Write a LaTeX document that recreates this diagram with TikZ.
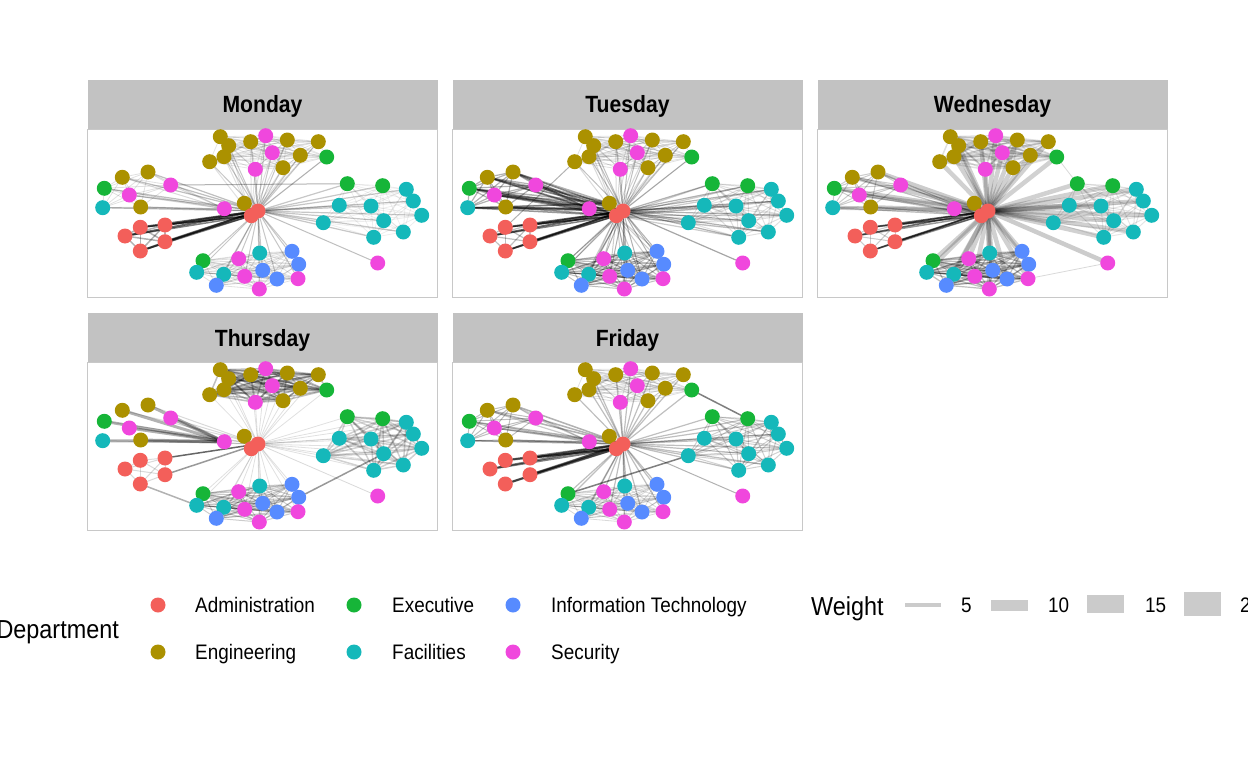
\documentclass[tikz,border=0pt]{standalone}
\usepackage{fontspec}
\setmainfont{Liberation Sans}[FakeStretch=0.9]
\usetikzlibrary{positioning}

\definecolor{admc}{HTML}{F35F5A}
\definecolor{engc}{HTML}{AB9100}
\definecolor{exec}{HTML}{16B538}
\definecolor{facc}{HTML}{15B8BA}
\definecolor{itc}{HTML}{578BFF}
\definecolor{secc}{HTML}{F047DD}
\definecolor{stripc}{HTML}{C2C2C2}
\definecolor{framec}{HTML}{C8C8C8}
\definecolor{keyc}{HTML}{CBCBCB}

\pgfdeclarelayer{edges}
\pgfsetlayers{edges,main}

\tikzset{
  dot/.style={circle, inner sep=0pt, minimum size=15pt},
  adm/.style={dot, fill=admc},
  eng/.style={dot, fill=engc},
  exe/.style={dot, fill=exec},
  fac/.style={dot, fill=facc},
  itd/.style={dot, fill=itc},
  sec/.style={dot, fill=secc},
  edge/.style={draw=black, line cap=round},
  frame/.style={draw=framec, line width=1pt},
  striptext/.style={inner sep=0pt, anchor=base, font=\fontsize{23.5}{26}\selectfont\bfseries},
  legtext/.style={inner sep=0pt, anchor=base west, font=\fontsize{21}{24}\selectfont},
  legtitle/.style={inner sep=0pt, font=\fontsize{26}{30}\selectfont},
  keyline/.style={draw=keyc, line cap=butt}
}

% groups of the layout
\def\topgrp{e1,e2,e3,e4,e5,e6,e7,e8,e9,s1,s2,s3,x1}
\def\leftgrp{e10,e11,x2,s4,f1,e12,s5}
\def\redgrp{a2,a3,a4,a5,a6}
\def\rightgrp{x3,x4,f2,f3,f4,f5,f6,f7,f8,f9,f10}
\def\lowgrp{x5,f11,f12,i1,s8,f13,i2,i3,s9,i4,i5,s10,s11}

% center, list, opacity, width
\newcommand{\spokes}[4]{%
  \foreach \v in #2 {\draw[edge, opacity=#3, line width=#4] (#1) -- (\v);}}
% list, opacity, width
\newcommand{\clique}[3]{%
  \foreach \u [count=\i] in #1 {
    \foreach \v [count=\j] in #1 {
      \ifnum\i<\j \draw[edge, opacity=#2, line width=#3] (\u) -- (\v); \fi}}}

\newcommand{\panel}[1]{%
  \draw[frame] (87.5,129) rectangle (437.5,297);
  \fill[stripc] (87.5,80) rectangle (437.5,129);
  \node[striptext] (title) at (262.5,113) {#1};
  % engineering
  \node[eng] (e1) at (220.3,136.7) {};
  \node[eng] (e2) at (228.7,145.7) {};
  \node[eng] (e3) at (224,156.7) {};
  \node[eng] (e4) at (209.7,161.7) {};
  \node[eng] (e5) at (250.7,141.7) {};
  \node[eng] (e6) at (287.3,140) {};
  \node[eng] (e7) at (318.3,141.7) {};
  \node[eng] (e8) at (300.3,155.3) {};
  \node[eng] (e9) at (283,167.7) {};
  \node[eng] (e10) at (122.3,177.3) {};
  \node[eng] (e11) at (148,172) {};
  \node[eng] (e12) at (140.7,207) {};
  \node[eng] (e13) at (244.3,203.3) {};
  % executive
  \node[exe] (x1) at (326.7,157) {};
  \node[exe] (x2) at (104.3,188.3) {};
  \node[exe] (x3) at (347.3,183.7) {};
  \node[exe] (x4) at (382.7,185.7) {};
  \node[exe] (x5) at (203,260.7) {};
  % facilities
  \node[fac] (f1) at (102.7,207.7) {};
  \node[fac] (f2) at (406.3,189.3) {};
  \node[fac] (f3) at (413.3,201) {};
  \node[fac] (f4) at (421.7,215.3) {};
  \node[fac] (f5) at (339.3,205.3) {};
  \node[fac] (f6) at (371,206) {};
  \node[fac] (f7) at (383.7,220.7) {};
  \node[fac] (f8) at (323.3,222.7) {};
  \node[fac] (f9) at (403.3,232) {};
  \node[fac] (f10) at (373.7,237.3) {};
  \node[fac] (f11) at (196.7,272.3) {};
  \node[fac] (f12) at (223.7,274.3) {};
  \node[fac] (f13) at (259.7,253) {};
  % information technology
  \node[itd] (i1) at (216.3,285.3) {};
  \node[itd] (i2) at (292,251.3) {};
  \node[itd] (i3) at (298.7,264.3) {};
  \node[itd] (i4) at (262.7,270.3) {};
  \node[itd] (i5) at (277,279) {};
  % security
  \node[sec] (s1) at (265.7,135.7) {};
  \node[sec] (s2) at (272.3,152.7) {};
  \node[sec] (s3) at (255.3,169.3) {};
  \node[sec] (s4) at (129.3,195) {};
  \node[sec] (s5) at (170.7,185) {};
  \node[sec] (s6) at (224.3,208.7) {};
  \node[sec] (s7) at (377.7,263) {};
  \node[sec] (s8) at (238.7,258.7) {};
  \node[sec] (s9) at (244.7,276.3) {};
  \node[sec] (s10) at (298,278.7) {};
  \node[sec] (s11) at (259.3,289) {};
  % administration
  \node[adm] (a2) at (140.3,227.3) {};
  \node[adm] (a3) at (165,225) {};
  \node[adm] (a4) at (125,236) {};
  \node[adm] (a5) at (165,241.7) {};
  \node[adm] (a6) at (140.3,251) {};
  \node[adm] (a1) at (251.3,215.7) {};
  \node[adm] (a0) at (258,211) {};
}

\begin{document}
\begin{tikzpicture}[x=1pt, y=-1pt]
\useasboundingbox (0,0) rectangle (1248,768);

% Monday
\begin{scope}[name prefix=mon-]
  \panel{Monday}
  \begin{pgfonlayer}{edges}
    \spokes{a0}{\topgrp}{.22}{1}
    \spokes{a1}{\topgrp}{.12}{1}
    \spokes{a0}{\lowgrp}{.22}{1}
    \spokes{a0}{\rightgrp}{.22}{1.2}
    \spokes{a0}{\leftgrp}{.25}{1.2}
    \spokes{s6}{\leftgrp}{.15}{1}
    \spokes{a0}{\redgrp}{.6}{2}
    \spokes{a1}{\redgrp}{.5}{1.5}
    \clique{\topgrp}{.1}{.8}
    \clique{\lowgrp}{.12}{.8}
    \clique{\rightgrp}{.07}{.8}
    \clique{\leftgrp}{.12}{.8}
    \clique{\redgrp}{.3}{1.5}
    \draw[edge, opacity=.25, line width=1] (a0) -- (s7);
    \draw[edge, opacity=.3, line width=1] (s5) -- (x3);
  \end{pgfonlayer}
\end{scope}

% Tuesday
\begin{scope}[shift={(365,0)}, name prefix=tue-]
  \panel{Tuesday}
  \begin{pgfonlayer}{edges}
    \spokes{a0}{\leftgrp}{.45}{1.5}
    \spokes{a1}{\leftgrp}{.4}{1.5}
    \spokes{s6}{\leftgrp}{.35}{1.5}
    \spokes{e13}{\leftgrp}{.3}{1.5}
    \spokes{a0}{\redgrp}{.6}{1.8}
    \spokes{a1}{\redgrp}{.5}{1.5}
    \spokes{a0}{\topgrp}{.25}{1}
    \spokes{a1}{\topgrp}{.15}{1}
    \spokes{a0}{\lowgrp}{.3}{1}
    \spokes{a1}{\lowgrp}{.2}{1}
    \spokes{a0}{\rightgrp}{.3}{1.2}
    \spokes{a1}{\rightgrp}{.2}{1.2}
    \clique{\topgrp}{.12}{.8}
    \clique{\lowgrp}{.25}{1}
    \clique{\rightgrp}{.12}{1}
    \clique{\leftgrp}{.3}{1.2}
    \clique{\redgrp}{.25}{1.2}
    \draw[edge, opacity=.35, line width=1.2] (a0) -- (s7);
    \draw[edge, opacity=.3, line width=1] (e4) -- (a2);
  \end{pgfonlayer}
\end{scope}

% Wednesday
\begin{scope}[shift={(730,0)}, name prefix=wed-]
  \panel{Wednesday}
  \begin{pgfonlayer}{edges}
    \spokes{a0}{\topgrp}{.18}{4.5}
    \spokes{a0}{\rightgrp}{.18}{4.5}
    \spokes{a0}{\lowgrp}{.18}{4.5}
    \spokes{a0}{\leftgrp}{.2}{4}
    \spokes{a1}{\leftgrp}{.25}{1.2}
    \spokes{a0}{\redgrp}{.6}{1.5}
    \spokes{a1}{\redgrp}{.4}{1.5}
    \clique{\topgrp}{.12}{1.5}
    \clique{\lowgrp}{.25}{1.2}
    \clique{\rightgrp}{.1}{1}
    \clique{\leftgrp}{.2}{1}
    \clique{\redgrp}{.2}{1}
    \draw[edge, opacity=.2, line width=4.5] (a0) -- (s7);
    \draw[edge, opacity=.15, line width=.8] (s7) -- (s10);
    \draw[edge, opacity=.15, line width=.8] (x1) -- (x3);
  \end{pgfonlayer}
\end{scope}

% Thursday
\begin{scope}[shift={(0,233)}, name prefix=thu-]
  \panel{Thursday}
  \begin{pgfonlayer}{edges}
    \spokes{a0}{\topgrp}{.12}{.8}
    \spokes{a0}{\lowgrp}{.12}{.8}
    \spokes{a0}{\rightgrp}{.12}{.8}
    \spokes{s6}{\leftgrp}{.3}{3}
    \spokes{a0}{\leftgrp}{.15}{1}
    \draw[edge, opacity=.6, line width=1.5] (a0) -- (a3);
    \draw[edge, opacity=.4, line width=1.5] (a0) -- (a5);
    \clique{\topgrp}{.25}{1.5}
    \clique{\lowgrp}{.2}{1}
    \clique{\rightgrp}{.18}{1.5}
    \clique{\redgrp}{.15}{1}
    \draw[edge, opacity=.4, line width=1.5] (i3) -- (f7);
    \draw[edge, opacity=.3, line width=1.5] (a6) -- (f11);
    \draw[edge, opacity=.15, line width=.8] (a0) -- (s7);
  \end{pgfonlayer}
\end{scope}

% Friday
\begin{scope}[shift={(365,233)}, name prefix=fri-]
  \panel{Friday}
  \begin{pgfonlayer}{edges}
    \spokes{a0}{\redgrp}{.5}{2}
    \spokes{a1}{\redgrp}{.5}{2}
    \spokes{a0}{\topgrp}{.25}{1.2}
    \spokes{a0}{\lowgrp}{.25}{1.2}
    \spokes{a0}{\rightgrp}{.25}{1.2}
    \spokes{a0}{\leftgrp}{.3}{1.5}
    \spokes{s6}{\leftgrp}{.2}{1.2}
    \clique{\topgrp}{.12}{.8}
    \clique{\lowgrp}{.15}{.8}
    \clique{\leftgrp}{.25}{1}
    \clique{\rightgrp}{.18}{1}
    \draw[edge, opacity=.5, line width=1.5] (x1) -- (x4);
    \draw[edge, opacity=.5, line width=1.5] (f8) -- (x5);
    \draw[edge, opacity=.3, line width=1] (a0) -- (s7);
  \end{pgfonlayer}
\end{scope}

% legend
\node[legtitle, anchor=base east] (deptitle) at (119,638) {Department};
\node[adm] (kadm) at (158,605) {};
\node[eng] (keng) at (158,652) {};
\node[exe] (kexe) at (354,605) {};
\node[fac] (kfac) at (354,652) {};
\node[itd] (kitd) at (513,605) {};
\node[sec] (ksec) at (513,652) {};
\node[legtext] (ladm) at (195,612) {Administration};
\node[legtext] (leng) at (195,659) {Engineering};
\node[legtext] (lexe) at (392,612) {Executive};
\node[legtext] (lfac) at (392,659) {Facilities};
\node[legtext] (litd) at (551,612) {Information Technology};
\node[legtext] (lsec) at (551,659) {Security};

\node[legtitle, anchor=base west] (wtitle) at (811,615) {Weight};
\draw[keyline, line width=4] (905,605) -- (941,605);
\draw[keyline, line width=11] (991,605) -- (1028,605);
\draw[keyline, line width=18] (1087,604) -- (1124,604);
\draw[keyline, line width=24] (1184,604) -- (1221,604);
\node[legtext] (w5) at (961,612) {5};
\node[legtext] (w10) at (1048,612) {10};
\node[legtext] (w15) at (1145,612) {15};
\node[legtext] (w20) at (1240,612) {20};
\end{tikzpicture}
\end{document}
